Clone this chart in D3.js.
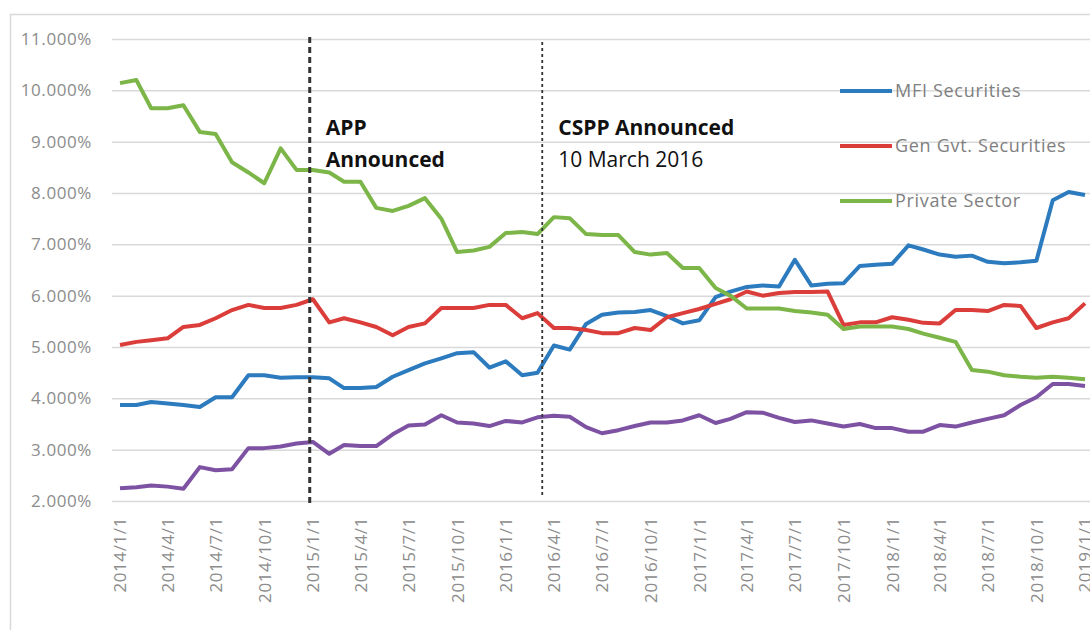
<!DOCTYPE html>
<html>
<head>
<meta charset="utf-8">
<script src="https://cdn.jsdelivr.net/npm/d3@7"></script>
<style>
  body { margin: 0; background: #fff; }
  svg { display: block; font-family: "Open Sans", sans-serif; }
</style>
</head>
<body>
<svg id="chart" width="1090" height="630"></svg>
<script>
// monthly observations, 2014/1/1 .. 2019/1/1
const months = d3.timeMonth.range(new Date(2014, 0, 1), new Date(2019, 1, 1));

const mfiSecurities = [3.87, 3.87, 3.93, 3.90, 3.87, 3.83, 4.02, 4.02, 4.45, 4.45,
  4.40, 4.41, 4.41, 4.39, 4.20, 4.20, 4.22, 4.42, 4.55, 4.68,
  4.78, 4.88, 4.90, 4.60, 4.72, 4.45, 4.50, 5.03, 4.95, 5.45,
  5.63, 5.67, 5.68, 5.72, 5.60, 5.46, 5.52, 5.97, 6.08, 6.17,
  6.20, 6.18, 6.70, 6.20, 6.23, 6.24, 6.58, 6.60, 6.62, 6.98,
  6.90, 6.80, 6.76, 6.78, 6.66, 6.63, 6.65, 6.68, 7.86, 8.02, 7.96];

const genGovSecurities = [5.04, 5.10, 5.13, 5.17, 5.39, 5.43, 5.56, 5.72, 5.82, 5.76,
  5.76, 5.82, 5.93, 5.48, 5.56, 5.48, 5.39, 5.23, 5.39, 5.46,
  5.76, 5.76, 5.76, 5.82, 5.82, 5.56, 5.66, 5.37, 5.37, 5.33,
  5.27, 5.27, 5.37, 5.33, 5.58, 5.66, 5.74, 5.84, 5.93, 6.08,
  6.00, 6.05, 6.07, 6.07, 6.08, 5.43, 5.48, 5.48, 5.58, 5.53,
  5.47, 5.46, 5.72, 5.72, 5.70, 5.82, 5.80, 5.37, 5.48, 5.56, 5.85];

const privateSector = [10.14, 10.20, 9.65, 9.65, 9.71, 9.19, 9.15, 8.60, 8.40, 8.19,
  8.87, 8.45, 8.45, 8.40, 8.22, 8.22, 7.71, 7.65, 7.75, 7.90,
  7.50, 6.85, 6.88, 6.95, 7.22, 7.24, 7.20, 7.53, 7.51, 7.20,
  7.18, 7.18, 6.85, 6.80, 6.83, 6.54, 6.54, 6.15, 6.00, 5.75,
  5.75, 5.75, 5.70, 5.67, 5.63, 5.35, 5.40, 5.40, 5.40, 5.35,
  5.26, 5.18, 5.10, 4.55, 4.52, 4.45, 4.42, 4.40, 4.42, 4.40, 4.37];

// fourth series, no legend entry in the original
const otherSeries = [2.25, 2.27, 2.30, 2.28, 2.24, 2.66, 2.60, 2.62, 3.03, 3.03,
  3.06, 3.12, 3.15, 2.92, 3.09, 3.07, 3.07, 3.30, 3.47, 3.49,
  3.67, 3.53, 3.51, 3.46, 3.56, 3.53, 3.63, 3.66, 3.64, 3.44,
  3.32, 3.38, 3.46, 3.53, 3.53, 3.57, 3.67, 3.52, 3.60, 3.73,
  3.72, 3.62, 3.54, 3.57, 3.51, 3.45, 3.50, 3.42, 3.42, 3.35,
  3.35, 3.48, 3.45, 3.53, 3.60, 3.67, 3.87, 4.02, 4.28, 4.28, 4.24];

const yTicks = [2, 3, 4, 5, 6, 7, 8, 9, 10, 11];
const xTicks = d3.timeMonth.every(3).range(new Date(2014, 0, 1), new Date(2019, 1, 1));

const series = [
  { name: "MFI Securities", values: mfiSecurities, color: "#2c7bbf", legend: true },
  { name: "Gen Gvt. Securities", values: genGovSecurities, color: "#db3e3a", legend: true },
  { name: "Private Sector", values: privateSector, color: "#7cb548", legend: true },
  { name: "", values: otherSeries, color: "#7d52a3", legend: false }
];

const events = [
  { date: new Date(2014, 11, 26), lines: [["APP", 700], ["Announced", 700]], y1: 37, y2: 507, width: 3, dash: "6,4" },
  { date: new Date(2016, 2, 10), lines: [["CSPP Announced", 700], ["10 March 2016", 400]], y1: 42, y2: 496, width: 1.8, dash: "3,3" }
];

const svg = d3.select("#chart");

// chart frame
svg.append("rect")
  .attr("x", 10.5).attr("y", 14.5)
  .attr("width", 1100).attr("height", 700)
  .attr("fill", "none")
  .attr("stroke", "#d9d9d9")
  .attr("stroke-width", 1.5);

const x = d3.scaleTime()
  .domain([new Date(2014, 0, 1), new Date(2019, 0, 1)])
  .range([120, 1085]);

const y = d3.scaleLinear()
  .domain([2, 11])
  .range([501, 39]);

// gridlines + y labels
const yAxis = svg.append("g")
  .attr("transform", "translate(112,0)")
  .call(d3.axisLeft(y).tickValues(yTicks).tickSize(-1000).tickPadding(20)
    .tickFormat(d => d3.format(".3f")(d) + "%"));
yAxis.select(".domain").remove();
yAxis.selectAll("line").attr("stroke", "#d9d9d9").attr("stroke-width", 1.5);
yAxis.selectAll("text")
  .attr("fill", "#8c8c8c")
  .attr("font-size", 17)
  .attr("letter-spacing", 0.6)
  .attr("font-family", "Open Sans, sans-serif");

// x labels
const xAxis = svg.append("g")
  .attr("transform", "translate(0,501)")
  .call(d3.axisBottom(x).tickValues(xTicks).tickSize(0)
    .tickFormat(d3.timeFormat("%Y/%-m/%-d")));
xAxis.select(".domain").remove();
xAxis.selectAll("text")
  .attr("fill", "#8c8c8c")
  .attr("font-size", 17)
  .attr("letter-spacing", 0.6)
  .attr("font-family", "Open Sans, sans-serif")
  .attr("text-anchor", "end")
  .attr("transform", "rotate(-90)")
  .attr("x", -16)
  .attr("y", 0)
  .attr("dy", "0.35em");

// series lines
const line = d3.line()
  .x((d, i) => x(months[i]))
  .y(d => y(d));

svg.append("g")
  .selectAll("path")
  .data(series)
  .join("path")
  .attr("d", d => line(d.values))
  .attr("fill", "none")
  .attr("stroke", d => d.color)
  .attr("stroke-width", 4)
  .attr("stroke-linejoin", "round");

// announcement markers
events.forEach(ev => {
  const ex = x(ev.date);
  svg.append("line")
    .attr("x1", ex).attr("x2", ex)
    .attr("y1", ev.y1).attr("y2", ev.y2)
    .attr("stroke", "#333")
    .attr("stroke-width", ev.width)
    .attr("stroke-dasharray", ev.dash);
  ev.lines.forEach(([txt, weight], k) => {
    svg.append("text")
      .attr("x", ex + 16)
      .attr("y", 135 + k * 32)
      .attr("font-size", 21)
      .attr("font-weight", weight)
      .attr("fill", "#111")
      .text(txt);
  });
});

// legend
const legend = svg.append("g")
  .selectAll("g")
  .data(series.filter(d => d.legend))
  .join("g")
  .attr("transform", (d, i) => `translate(840,${91 + i * 55})`);
legend.append("line")
  .attr("x1", 0).attr("x2", 52)
  .attr("stroke", d => d.color)
  .attr("stroke-width", 4);
legend.append("text")
  .attr("x", 55)
  .attr("dy", "0.35em")
  .attr("font-size", 18)
  .attr("letter-spacing", 0.7)
  .attr("fill", "#808080")
  .text(d => d.name);
</script>
</body>
</html>
